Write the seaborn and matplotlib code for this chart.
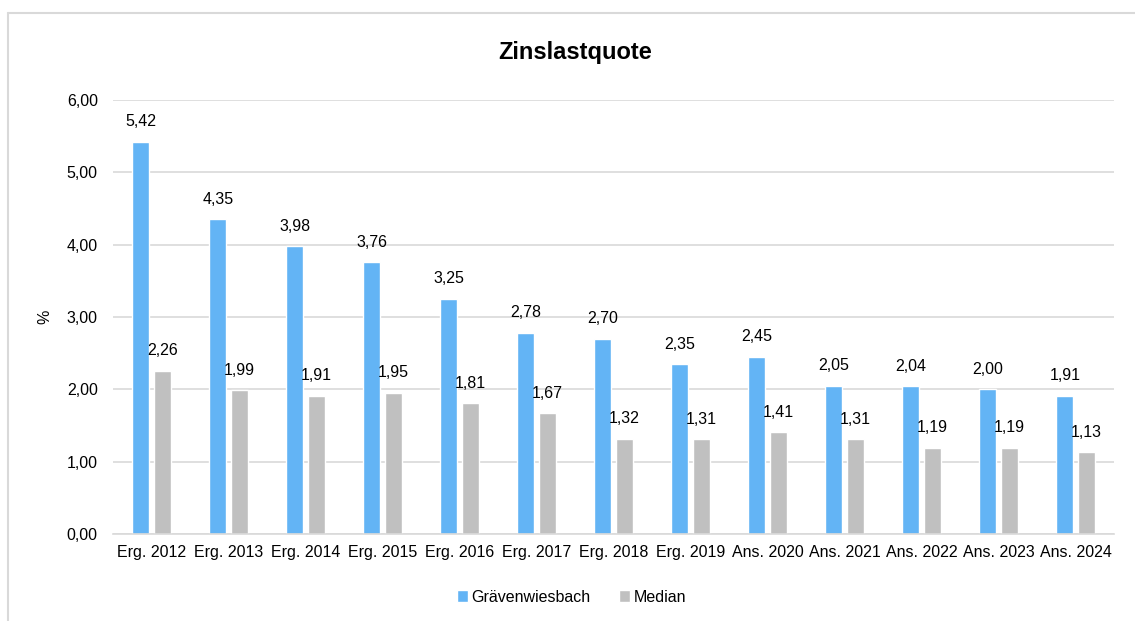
import matplotlib
matplotlib.use("Agg")
import matplotlib.pyplot as plt
import seaborn as sns
import pandas as pd
from matplotlib.lines import Line2D

sns.set_theme(style="white")
plt.rcParams["font.family"] = ["Liberation Sans", "DejaVu Sans"]
plt.rcParams["text.color"] = "black"
plt.rcParams["xtick.color"] = "black"
plt.rcParams["ytick.color"] = "black"
plt.rcParams["axes.labelcolor"] = "black"

years = ["Erg. 2012", "Erg. 2013", "Erg. 2014", "Erg. 2015", "Erg. 2016", "Erg. 2017",
         "Erg. 2018", "Erg. 2019", "Ans. 2020", "Ans. 2021", "Ans. 2022", "Ans. 2023", "Ans. 2024"]
graevenwiesbach = [5.42, 4.35, 3.98, 3.76, 3.25, 2.78, 2.70, 2.35, 2.45, 2.05, 2.04, 2.00, 1.91]
median = [2.26, 1.99, 1.91, 1.95, 1.81, 1.67, 1.32, 1.31, 1.41, 1.31, 1.19, 1.19, 1.13]
series = ["Grävenwiesbach", "Median"]
colors = ["#63B4F5", "#C0C0C0"]

df = pd.DataFrame({"Jahr": years * 2,
                   "Wert": graevenwiesbach + median,
                   "Reihe": [series[0]] * len(years) + [series[1]] * len(years)})

fig = plt.figure(figsize=(11.35, 6.21), dpi=100)
ax = fig.add_axes([0.0996, 0.140, 0.882, 0.699])

sns.barplot(data=df, x="Jahr", y="Wert", hue="Reihe", palette=colors, width=0.56,
            gap=0.2, ax=ax, saturation=1, legend=True)

ax.set_ylim(0, 6)
ax.set_yticks([0, 1, 2, 3, 4, 5, 6])
ax.set_yticklabels([f"{v:.2f}".replace(".", ",") for v in range(7)], fontsize=11.5)
ax.tick_params(axis="x", labelsize=11.5, length=0, pad=8)
ax.tick_params(axis="y", length=0, pad=11)
ax.yaxis.grid(True, color="#D9D9D9", linewidth=1.2)
ax.set_axisbelow(True)
for s in ["top", "right", "left"]:
    ax.spines[s].set_visible(False)
ax.spines["bottom"].set_color("#D9D9D9")
ax.spines["bottom"].set_linewidth(1.2)
ax.set_xlabel("")
ax.set_ylabel("%", fontsize=11.5, labelpad=10)

for cont in ax.containers:
    ax.bar_label(cont, labels=[f"{b.get_height():.2f}".replace(".", ",") for b in cont],
                 padding=9, fontsize=11.5)

fig.text(0.507, 0.916, "Zinslastquote", ha="center", va="center", fontsize=17, fontweight="bold")

ax.legend(loc="upper center", bbox_to_anchor=(0.458, -0.095), ncol=2, frameon=False,
          fontsize=11.5, handlelength=0.7, handleheight=0.7, handletextpad=0.2, columnspacing=1.8)

fig.add_artist(Line2D([0.007, 1.0], [0.979, 0.979], transform=fig.transFigure, color="#D9D9D9", lw=1.5))
fig.add_artist(Line2D([0.007, 0.007], [0.0, 0.979], transform=fig.transFigure, color="#D9D9D9", lw=1.5))

fig.savefig("out.png", dpi=100, facecolor="white")
